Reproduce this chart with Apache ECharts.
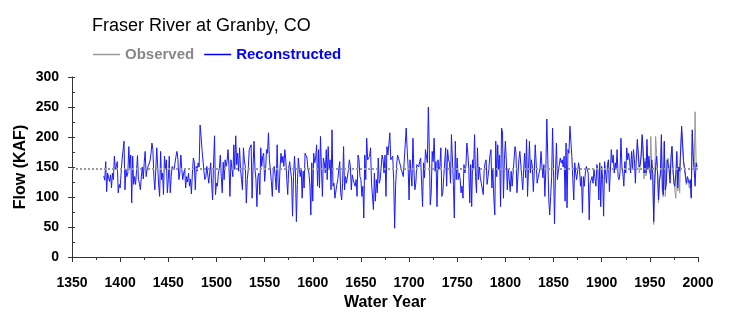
<!DOCTYPE html>
<html>
<head>
<meta charset="utf-8">
<script src="https://cdn.jsdelivr.net/npm/echarts@6/dist/echarts.min.js"></script>
<style>
html,body{margin:0;padding:0;background:#fff;}
#chart{width:739px;height:323px;}
</style>
</head>
<body>
<div id="chart"></div>
<script>
// ---- data ----
const titleText = 'Fraser River at Granby, CO';
const seriesNames = ['Observed', 'Reconstructed'];
const reconStartYear = 1383;
const observedStartYear = 1937;
const meanFlow = 146.5;
const xTicks = [1350, 1400, 1450, 1500, 1550, 1600, 1650, 1700, 1750, 1800, 1850, 1900, 1950, 2000];
const yTicks = [0, 50, 100, 150, 200, 250, 300];

// reconstructed annual flow (KAF), 1383-1487
const recon1383 = [
  135,128,159,109,140,132,126,137,115,140,
  129,168,146,151,159,107,121,115,140,162,
  165,193,112,146,134,140,184,148,170,90,
  168,121,134,121,143,169,129,123,112,134,
  150,130,158,176,134,146,151,154,160,172,
  190,179,134,112,146,182,150,120,101,176,
  129,140,104,168,146,162,107,129,168,107,
  134,151,152,146,143,168,176,162,129,140,
  170,146,129,140,146,115,134,125,140,118,
  130,105,140,165,159,112,151,143,157,150,
  220,201,179,176,143
];
// 1488-1597
const recon1488 = [
  129,
  134,151,152,123,140,157,123,95,157,202,
  104,123,118,140,148,170,134,107,158,129,
  162,151,159,179,151,101,162,159,134,187,
  146,202,154,173,143,182,146,129,112,182,
  160,151,90,129,146,179,180,187,98,151,
  193,146,129,84,134,140,104,182,151,168,
  173,126,146,179,173,207,
  162,162,126,101,146,151,134,112,187,123,
  107,148,173,157,168,151,179,162,129,104,
  148,159,157,130,68,134,168,140,59,121,
  165,146,134,146,98,143,115,173,176,165,146,140,120
];
// 1598-1700
const recon1598 = [
  70,157,93,173,157,165,187,118,179,115,
  201,151,101,165,157,140,179,129,184,146,
  162,112,212,118,123,98,101,121,129,146,
  159,107,95,123,184,112,134,123,126,145,
  162,151,112,137,129,123,118,129,101,170,
  162,134,129,101,118,65,170,129,198,162,
  165,168,182,123,121,79,140,93,129,107,
  165,123,129,150,170,162,140,170,101,184,
  170,187,207,162,165,168,129,48,118,151,
  170,165,168,165,146,146,134,137,137,215,
  179,151,95
];
// 1701-1804
const recon1701 = [
  162,140,118,198,146,112,123,154,157,150,
  159,165,162,84,157,132,179,182,157,250,
  179,87,107,176,159,198,143,159,84,162,
  146,151,182,101,107,134,134,182,118,179,
  162,157,123,204,201,121,65,193,129,165,
  129,140,130,107,118,98,154,140,151,190,
  173,146,90,154,84,162,146,204,134,107,
  182,129,150,132,123,126,104,146,157,162,
  121,134,151,170,179,115,146,98,70,193,
  134,187,146,170,84,215,209,98,162,193,
  159,112,148,146
];
// 1805-1908
const recon1805 = [
  109,143,118,118,118,184,173,107,135,162,
  176,179,134,112,146,173,132,196,101,146,
  193,140,162,150,109,143,187,187,123,132,
  134,148,176,151,132,154,101,146,230,168,
  98,70,101,132,215,146,55,140,190,129,
  143,146,165,157,162,150,168,93,190,82,
  179,173,218,215,168,129,95,157,140,129,
  129,157,146,118,134,74,134,118,140,151,
  146,140,62,123,121,134,123,146,148,118,
  154,146,95,157,84,151,129,68,159,157,
  123,154,162,109
];
// 1909-1999
const recon1909 = [
  107,179,157,170,140,157,146,179,134,129,
  140,198,150,140,118,159,140,182,162,173,
  159,140,176,146,179,162,123,165,196,173,
  150,154,168,204,179,140,159,140,196,146,
  168,146,129,162,140,59,123,151,168,143,
  95,129,140,204,115,104,193,112,121,162,
  162,146,123,168,184,146,123,118,140,176,
  115,150,143,179,218,215,159,146,137,123,
  134,129,123,129,98,212,168,146,118,157,
  150
];
// observed annual flow (KAF), 1937-1999
const observed = [
  190,165,140,150,175,200,170,130,165,135,
  185,150,160,140,201,150,135,54,120,201,
  175,140,90,125,135,200,105,100,190,101,
  125,160,165,150,130,160,185,145,130,110,
  98,170,110,150,107,175,212,210,160,150,
  130,120,130,125,115,125,100,205,170,150,
  242,160,150
];

const reconstructed = [].concat(recon1383, recon1488, recon1598, recon1701, recon1805, recon1909);
const reconData = reconstructed.map((v, i) => [reconStartYear + i, v]);
const obsData = observed.map((v, i) => [observedStartYear + i, v]);

const FONT = '"Liberation Sans", Arial, Helvetica, sans-serif';
const chart = echarts.init(document.getElementById('chart'), null, {renderer: 'canvas'});
chart.setOption({
  animation: false,
  backgroundColor: '#ffffff',
  textStyle: {fontFamily: FONT},
  title: {
    text: titleText,
    left: 87,
    top: 12,
    textStyle: {fontFamily: FONT, fontSize: 18, fontWeight: 'normal', color: '#000'}
  },
  legend: {
    left: 88,
    top: 42,
    icon: 'rect',
    itemWidth: 27,
    itemHeight: 1.5,
    itemGap: 10,
    textStyle: {fontFamily: FONT, fontSize: 15, fontWeight: 'bold'},
    data: [
      {name: seriesNames[0], textStyle: {color: '#888888'}},
      {name: seriesNames[1], textStyle: {color: '#0000ff'}}
    ]
  },
  grid: {left: 72, right: 41, top: 77, bottom: 66},
  xAxis: {
    type: 'value',
    min: xTicks[0],
    max: xTicks[xTicks.length - 1],
    interval: 50,
    name: 'Water Year',
    nameLocation: 'middle',
    nameGap: 38,
    nameMoveOverlap: false,
    nameTextStyle: {fontFamily: FONT, fontSize: 16, fontWeight: 'bold', color: '#000'},
    axisLine: {lineStyle: {color: '#333', width: 1}},
    axisTick: {show: true, length: 5, lineStyle: {color: '#333'}},
    minorTick: {show: true, splitNumber: 2, length: 3, lineStyle: {color: '#333'}},
    splitLine: {show: false},
    axisLabel: {fontFamily: FONT, fontSize: 14, fontWeight: 'bold', color: '#000', margin: 19,
      formatter: v => String(v)}
  },
  yAxis: [{
    type: 'value',
    min: yTicks[0],
    max: yTicks[yTicks.length - 1],
    interval: 50,
    name: 'Flow (KAF)',
    nameLocation: 'middle',
    nameGap: 43,
    nameMoveOverlap: false,
    nameTextStyle: {fontFamily: FONT, fontSize: 16, fontWeight: 'bold', color: '#000'},
    axisLine: {show: true, lineStyle: {color: '#333', width: 1}},
    axisTick: {show: true, length: 4, lineStyle: {color: '#333'}},
    splitLine: {show: false},
    axisLabel: {fontFamily: FONT, fontSize: 14, fontWeight: 'bold', color: '#000', margin: 13}
  }, {
    type: 'value',
    position: 'left',
    min: yTicks[0],
    max: yTicks[yTicks.length - 1],
    interval: 25,
    axisLine: {show: false},
    axisTick: {show: true, inside: true, length: 3, lineStyle: {color: '#333'}},
    axisLabel: {show: false},
    splitLine: {show: false}
  }],
  series: [{
    name: seriesNames[0],
    type: 'line',
    data: obsData,
    showSymbol: false,
    symbol: 'none',
    color: '#999999',
    lineStyle: {color: '#999999', width: 1},
    z: 2
  }, {
    name: seriesNames[1],
    type: 'line',
    data: reconData,
    showSymbol: false,
    symbol: 'none',
    color: '#0000ff',
    lineStyle: {color: '#1a1aff', width: 1},
    z: 3,
    markLine: {
      silent: true,
      symbol: 'none',
      label: {show: false},
      lineStyle: {color: '#999999', width: 2, type: [2, 2]},
      data: [{yAxis: meanFlow}]
    }
  }]
});
</script>
</body>
</html>
